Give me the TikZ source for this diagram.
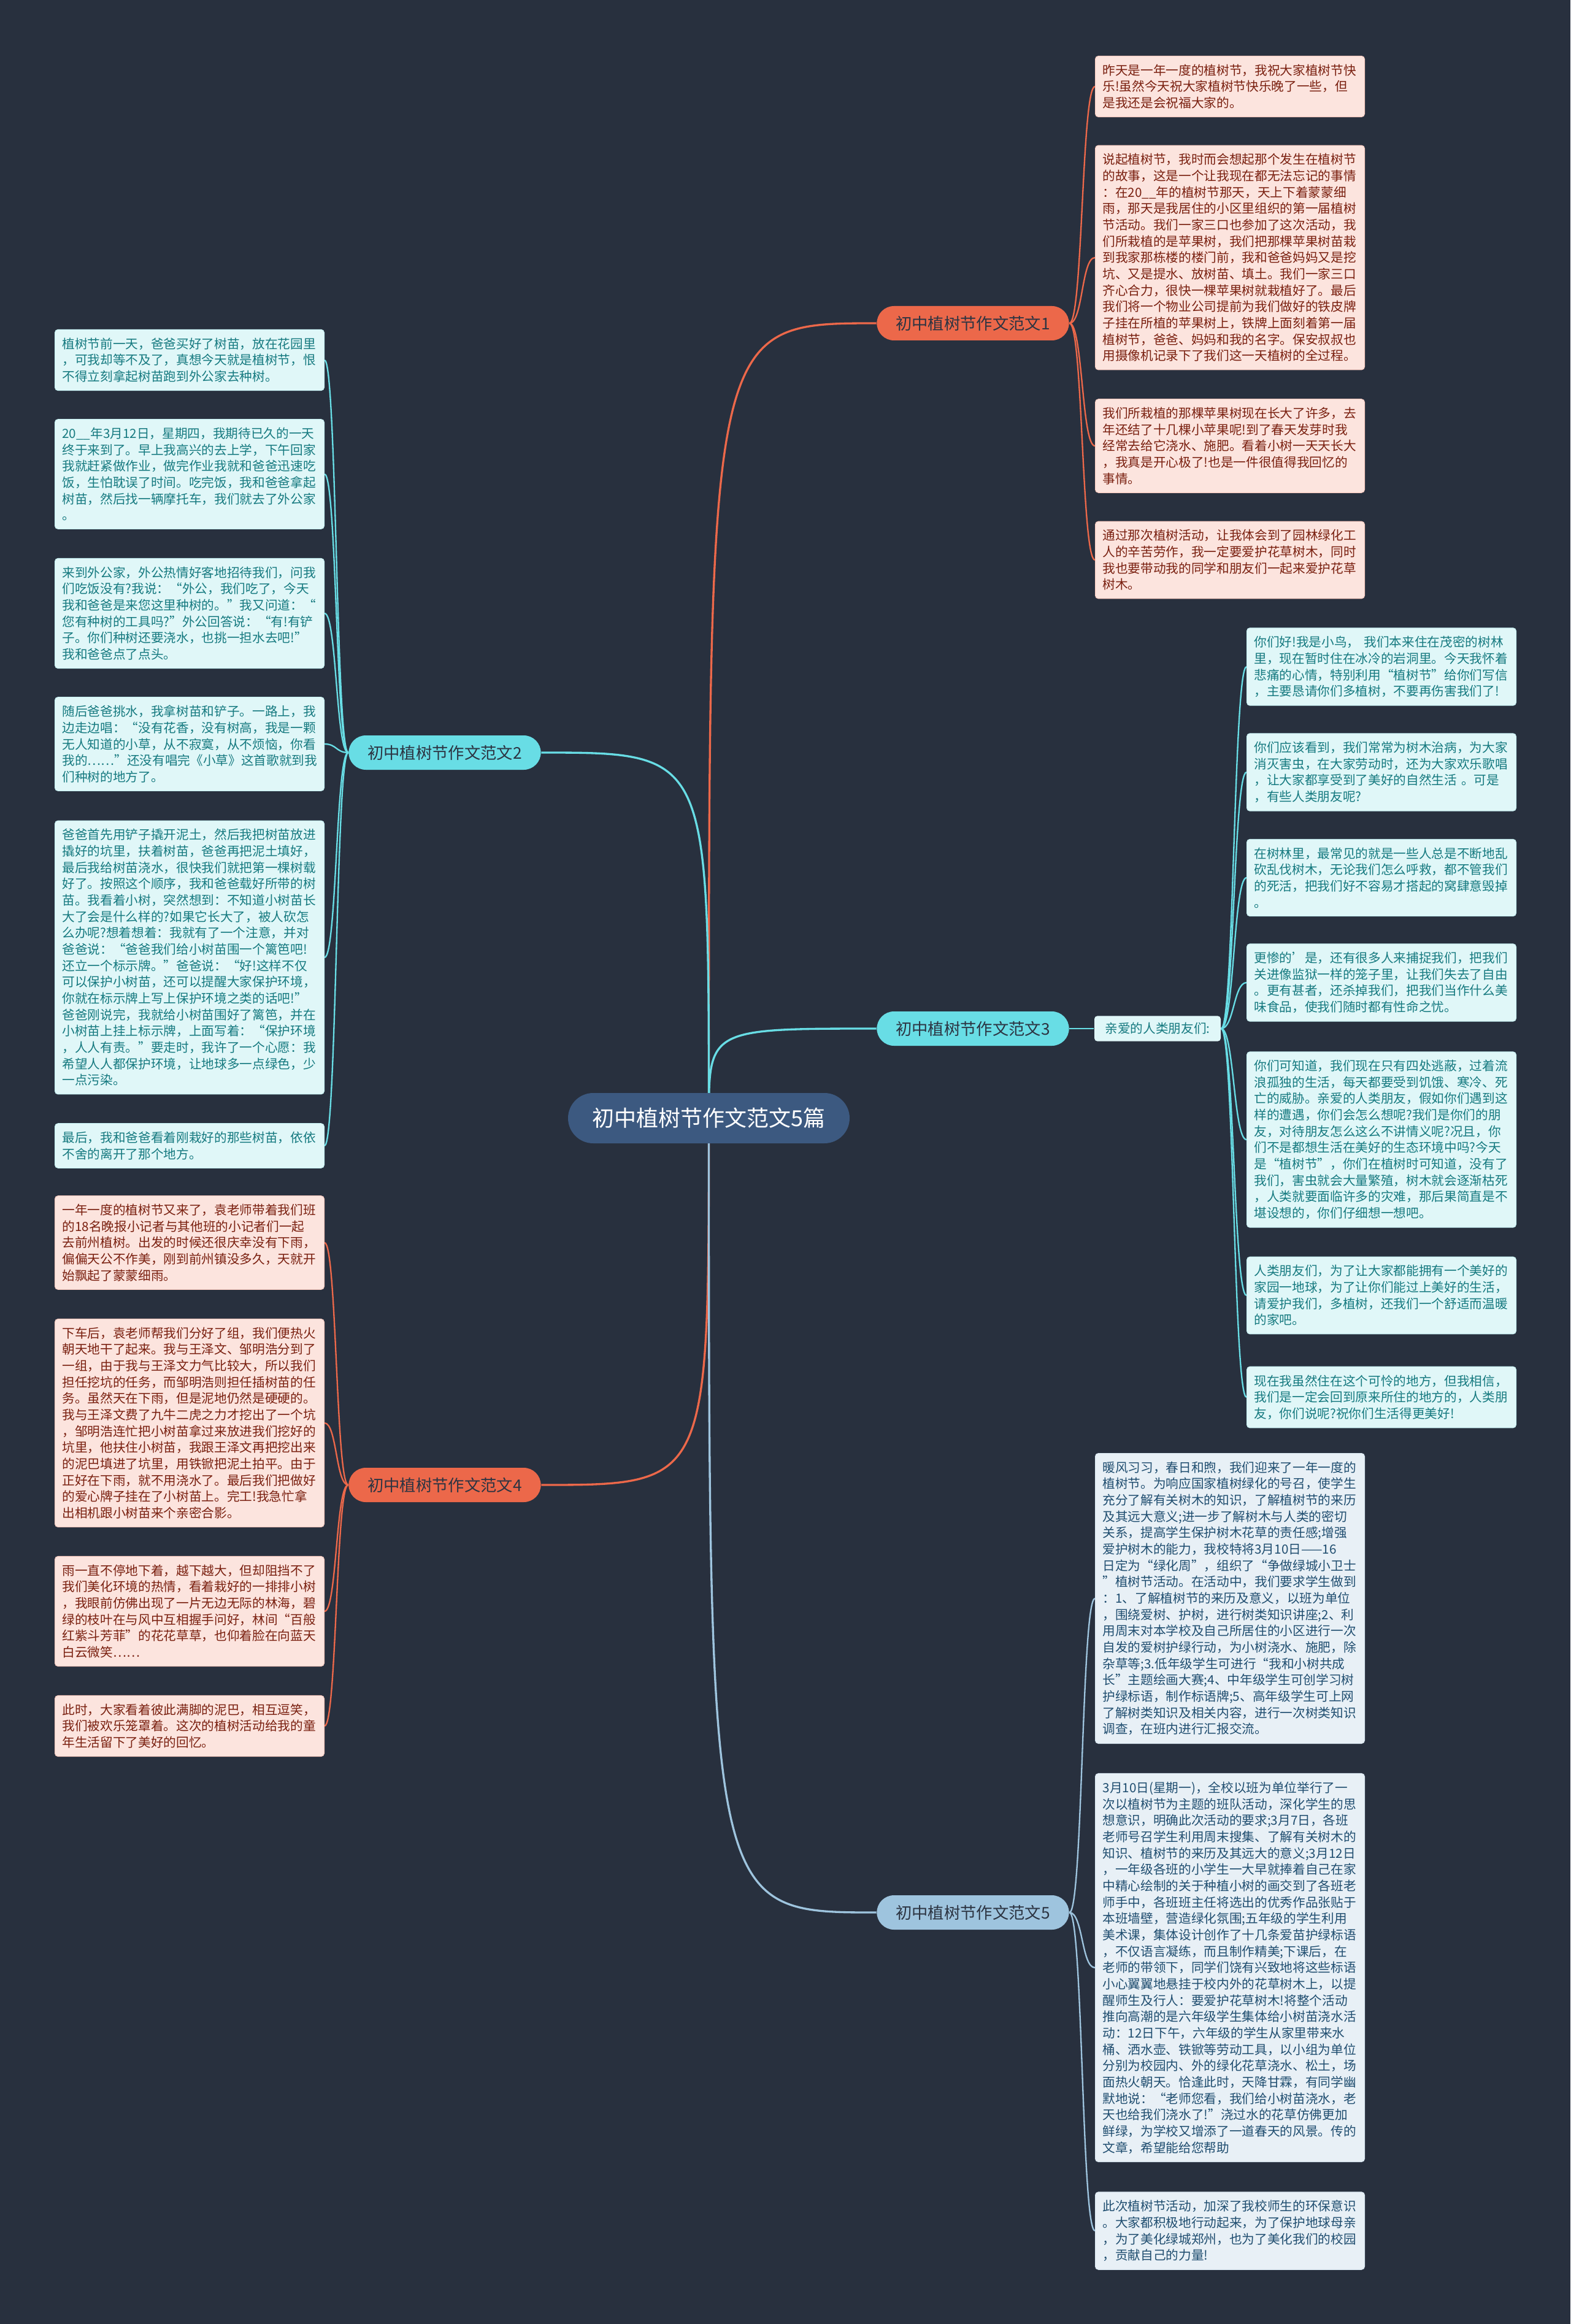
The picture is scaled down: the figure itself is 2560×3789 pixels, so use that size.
\documentclass[tikz,border=0pt]{standalone}
\usepackage{fontspec}
\setmainfont{Noto Sans CJK SC}
\usepackage{xcolor}
\usepackage{tikz}
\usetikzlibrary{shapes,positioning,backgrounds}

\definecolor{bgnavy}{RGB}{40,48,62}
\definecolor{rootblue}{RGB}{60,89,128}
\definecolor{coral}{RGB}{236,104,74}
\definecolor{aqua}{RGB}{104,221,229}
\definecolor{skyblue}{RGB}{158,196,222}
\definecolor{pinkfill}{RGB}{252,228,222}
\definecolor{pinktext}{RGB}{122,32,16}
\definecolor{aquafill}{RGB}{224,247,248}
\definecolor{aquatext}{RGB}{22,122,128}
\definecolor{bluefill}{RGB}{232,240,246}
\definecolor{bluetext}{RGB}{32,78,112}
\definecolor{topictext}{RGB}{44,52,66}

\pgfdeclarelayer{edges}
\pgfsetlayers{background,edges,main}

\begin{document}
\begin{tikzpicture}[x=0.3pt, y=-0.3pt,
    root/.style={rectangle, rounded corners=12.3pt, fill=rootblue, text=white, minimum width=137.7pt, minimum height=24.6pt, font=\fontsize{10.8pt}{13pt}\selectfont},
    topic/.style={rectangle, rounded corners=8.4pt, minimum width=94pt, minimum height=16.8pt, text=topictext, font=\fontsize{7.9pt}{9pt}\selectfont},
    hub/.style={rectangle, rounded corners=1.5pt, fill=aquafill, text=aquatext, minimum width=61.8pt, minimum height=11.7pt, font=\fontsize{6.2pt}{8pt}\selectfont},
    leaf/.style={rectangle, rounded corners=1.5pt, anchor=west, text width=124.5pt, align=left, inner xsep=3.6pt, inner ysep=4pt, line width=0.3pt, font=\fontsize{6.2pt}{8pt}\selectfont},
    leafo/.style={leaf, fill=pinkfill, draw=pinkfill!80!coral, text=pinktext},
    leafc/.style={leaf, fill=aquafill, draw=aquafill!80!aqua, text=aquatext},
    leafb/.style={leaf, fill=bluefill, draw=bluefill!80!skyblue, text=bluetext},
    branch/.style={line width=1pt},
    twig/.style={line width=0.7pt}
]

\begin{pgfonlayer}{background}
\fill[bgnavy] (0,0) rectangle (2560,3789);
\end{pgfonlayer}

% Root and topics
\node[root] (root) at (1155.5,1823) {初中植树节作文范文5篇};
\node[topic, fill=coral] (t1) at (1586,527) {初中植树节作文范文1};
\node[topic, fill=aqua] (t2) at (725,1227) {初中植树节作文范文2};
\node[topic, fill=aqua] (t3) at (1586,1677) {初中植树节作文范文3};
\node[topic, fill=coral] (t4) at (725,2421) {初中植树节作文范文4};
\node[topic, fill=skyblue] (t5) at (1586,3118) {初中植树节作文范文5};

% Essay 1
\node[leafo] (a1) at (1785,141) {昨天是一年一度的植树节，我祝大家植树节快\\
乐!虽然今天祝大家植树节快乐晚了一些，但\\
是我还是会祝福大家的。};
\node[leafo] (a2) at (1785,420) {说起植树节，我时而会想起那个发生在植树节\\
的故事，这是一个让我现在都无法忘记的事情\\
：在20\_\_年的植树节那天，天上下着蒙蒙细\\
雨，那天是我居住的小区里组织的第一届植树\\
节活动。我们一家三口也参加了这次活动，我\\
们所栽植的是苹果树，我们把那棵苹果树苗栽\\
到我家那栋楼的楼门前，我和爸爸妈妈又是挖\\
坑、又是提水、放树苗、填土。我们一家三口\\
齐心合力，很快一棵苹果树就栽植好了。最后\\
我们将一个物业公司提前为我们做好的铁皮牌\\
子挂在所植的苹果树上，铁牌上面刻着第一届\\
植树节，爸爸、妈妈和我的名字。保安叔叔也\\
用摄像机记录下了我们这一天植树的全过程。};
\node[leafo] (a3) at (1785,727) {我们所栽植的那棵苹果树现在长大了许多，去\\
年还结了十几棵小苹果呢!到了春天发芽时我\\
经常去给它浇水、施肥。看着小树一天天长大\\
，我真是开心极了!也是一件很值得我回忆的\\
事情。};
\node[leafo] (a4) at (1785,913) {通过那次植树活动，让我体会到了园林绿化工\\
人的辛苦劳作，我一定要爱护花草树木，同时\\
我也要带动我的同学和朋友们一起来爱护花草\\
树木。};

% Essay 2
\node[leafc] (d1) at (89,587) {植树节前一天，爸爸买好了树苗，放在花园里\\
，可我却等不及了，真想今天就是植树节，恨\\
不得立刻拿起树苗跑到外公家去种树。};
\node[leafc] (d2) at (89,773) {20\_\_年3月12日，星期四，我期待已久的一天\\
终于来到了。早上我高兴的去上学，下午回家\\
我就赶紧做作业，做完作业我就和爸爸迅速吃\\
饭，生怕耽误了时间。吃完饭，我和爸爸拿起\\
树苗，然后找一辆摩托车，我们就去了外公家\\
。};
\node[leafc] (d3) at (89,1000) {来到外公家，外公热情好客地招待我们，问我\\
们吃饭没有?我说：“外公，我们吃了，今天\\
我和爸爸是来您这里种树的。”我又问道：“\\
您有种树的工具吗?”外公回答说：“有!有铲\\
子。你们种树还要浇水，也挑一担水去吧!”\\
我和爸爸点了点头。};
\node[leafc] (d4) at (89,1213) {随后爸爸挑水，我拿树苗和铲子。一路上，我\\
边走边唱：“没有花香，没有树高，我是一颗\\
无人知道的小草，从不寂寞，从不烦恼，你看\\
我的……”还没有唱完《小草》这首歌就到我\\
们种树的地方了。};
\node[leafc] (d5) at (89,1561) {爸爸首先用铲子撬开泥土，然后我把树苗放进\\
撬好的坑里，扶着树苗，爸爸再把泥土填好，\\
最后我给树苗浇水，很快我们就把第一棵树载\\
好了。按照这个顺序，我和爸爸载好所带的树\\
苗。我看着小树，突然想到：不知道小树苗长\\
大了会是什么样的?如果它长大了，被人砍怎\\
么办呢?想着想着：我就有了一个注意，并对\\
爸爸说：“爸爸我们给小树苗围一个篱笆吧!\\
还立一个标示牌。”爸爸说：“好!这样不仅\\
可以保护小树苗，还可以提醒大家保护环境，\\
你就在标示牌上写上保护环境之类的话吧!”\\
爸爸刚说完，我就给小树苗围好了篱笆，并在\\
小树苗上挂上标示牌，上面写着：“保护环境\\
，人人有责。”要走时，我许了一个心愿：我\\
希望人人都保护环境，让地球多一点绿色，少\\
一点污染。};
\node[leafc] (d6) at (89,1868) {最后，我和爸爸看着刚栽好的那些树苗，依依\\
不舍的离开了那个地方。};

% Essay 3
\node[hub] (hub) at (1887,1677) {亲爱的人类朋友们:};
\node[leafc] (b1) at (2032,1087) {你们好!我是小鸟， 我们本来住在茂密的树林\\
里，现在暂时住在冰冷的岩洞里。今天我怀着\\
悲痛的心情，特别利用“植树节”给你们写信\\
，主要恳请你们多植树，不要再伤害我们了!};
\node[leafc] (b2) at (2032,1259) {你们应该看到，我们常常为树木治病，为大家\\
消灭害虫，在大家劳动时，还为大家欢乐歌唱\\
，让大家都享受到了美好的自然生活 。可是\\
，有些人类朋友呢?};
\node[leafc] (b3) at (2032,1431) {在树林里，最常见的就是一些人总是不断地乱\\
砍乱伐树木，无论我们怎么呼救，都不管我们\\
的死活，把我们好不容易才搭起的窝肆意毁掉\\
。};
\node[leafc] (b4) at (2032,1602) {更惨的'是，还有很多人来捕捉我们，把我们\\
关进像监狱一样的笼子里，让我们失去了自由\\
。更有甚者，还杀掉我们，把我们当作什么美\\
味食品，使我们随时都有性命之忧。};
\node[leafc] (b5) at (2032,1858) {你们可知道，我们现在只有四处逃蔽，过着流\\
浪孤独的生活，每天都要受到饥饿、寒冷、死\\
亡的威胁。亲爱的人类朋友，假如你们遇到这\\
样的遭遇，你们会怎么想呢?我们是你们的朋\\
友，对待朋友怎么这么不讲情义呢?况且，你\\
们不是都想生活在美好的生态环境中吗?今天\\
是“植树节”，你们在植树时可知道，没有了\\
我们，害虫就会大量繁殖，树木就会逐渐枯死\\
，人类就要面临许多的灾难，那后果简直是不\\
堪设想的，你们仔细想一想吧。};
\node[leafc] (b6) at (2032,2112) {人类朋友们，为了让大家都能拥有一个美好的\\
家园一地球，为了让你们能过上美好的生活，\\
请爱护我们，多植树，还我们一个舒适而温暖\\
的家吧。};
\node[leafc] (b7) at (2032,2278) {现在我虽然住在这个可怜的地方，但我相信，\\
我们是一定会回到原来所住的地方的，人类朋\\
友，你们说呢?祝你们生活得更美好!};

% Essay 4
\node[leafo] (e1) at (89,2026) {一年一度的植树节又来了，袁老师带着我们班\\
的18名晚报小记者与其他班的小记者们一起\\
去前州植树。出发的时候还很庆幸没有下雨，\\
偏偏天公不作美，刚到前州镇没多久，天就开\\
始飘起了蒙蒙细雨。};
\node[leafo] (e2) at (89,2320) {下车后，袁老师帮我们分好了组，我们便热火\\
朝天地干了起来。我与王泽文、邹明浩分到了\\
一组，由于我与王泽文力气比较大，所以我们\\
担任挖坑的任务，而邹明浩则担任插树苗的任\\
务。虽然天在下雨，但是泥地仍然是硬硬的。\\
我与王泽文费了九牛二虎之力才挖出了一个坑\\
，邹明浩连忙把小树苗拿过来放进我们挖好的\\
坑里，他扶住小树苗，我跟王泽文再把挖出来\\
的泥巴填进了坑里，用铁锨把泥土拍平。由于\\
正好在下雨，就不用浇水了。最后我们把做好\\
的爱心牌子挂在了小树苗上。完工!我急忙拿\\
出相机跟小树苗来个亲密合影。};
\node[leafo] (e3) at (89,2627) {雨一直不停地下着，越下越大，但却阻挡不了\\
我们美化环境的热情，看着栽好的一排排小树\\
，我眼前仿佛出现了一片无边无际的林海，碧\\
绿的枝叶在与风中互相握手问好，林间“百般\\
红紫斗芳菲”的花花草草，也仰着脸在向蓝天\\
白云微笑……};
\node[leafo] (e4) at (89,2814) {此时，大家看着彼此满脚的泥巴，相互逗笑，\\
我们被欢乐笼罩着。这次的植树活动给我的童\\
年生活留下了美好的回忆。};

% Essay 5
\node[leafb] (c1) at (1785,2606) {暖风习习，春日和煦，我们迎来了一年一度的\\
植树节。为响应国家植树绿化的号召，使学生\\
充分了解有关树木的知识，了解植树节的来历\\
及其远大意义;进一步了解树木与人类的密切\\
关系，提高学生保护树木花草的责任感;增强\\
爱护树木的能力，我校特将3月10日——16\\
日定为“绿化周”，组织了“争做绿城小卫士\\
”植树节活动。在活动中，我们要求学生做到\\
：1、了解植树节的来历及意义，以班为单位\\
，围绕爱树、护树，进行树类知识讲座;2、利\\
用周末对本学校及自己所居住的小区进行一次\\
自发的爱树护绿行动，为小树浇水、施肥，除\\
杂草等;3.低年级学生可进行“我和小树共成\\
长”主题绘画大赛;4、中年级学生可创学习树\\
护绿标语，制作标语牌;5、高年级学生可上网\\
了解树类知识及相关内容，进行一次树类知识\\
调查，在班内进行汇报交流。};
\node[leafb] (c2) at (1785,3208) {3月10日(星期一)，全校以班为单位举行了一\\
次以植树节为主题的班队活动，深化学生的思\\
想意识，明确此次活动的要求;3月7日，各班\\
老师号召学生利用周末搜集、了解有关树木的\\
知识、植树节的来历及其远大的意义;3月12日\\
，一年级各班的小学生一大早就捧着自己在家\\
中精心绘制的关于种植小树的画交到了各班老\\
师手中，各班班主任将选出的优秀作品张贴于\\
本班墙壁，营造绿化氛围;五年级的学生利用\\
美术课，集体设计创作了十几条爱苗护绿标语\\
，不仅语言凝练，而且制作精美;下课后，在\\
老师的带领下，同学们饶有兴致地将这些标语\\
小心翼翼地悬挂于校内外的花草树木上，以提\\
醒师生及行人：要爱护花草树木!将整个活动\\
推向高潮的是六年级学生集体给小树苗浇水活\\
动：12日下午，六年级的学生从家里带来水\\
桶、洒水壶、铁锨等劳动工具，以小组为单位\\
分别为校园内、外的绿化花草浇水、松土，场\\
面热火朝天。恰逢此时，天降甘霖，有同学幽\\
默地说：“老师您看，我们给小树苗浇水，老\\
天也给我们浇水了!”浇过水的花草仿佛更加\\
鲜绿，为学校又增添了一道春天的风景。传的\\
文章，希望能给您帮助};
\node[leafb] (c3) at (1785,3637) {此次植树节活动，加深了我校师生的环保意识\\
。大家都积极地行动起来，为了保护地球母亲\\
，为了美化绿城郑州，也为了美化我们的校园\\
，贡献自己的力量!};

% Connectors
\begin{pgfonlayer}{edges}
\draw[branch, coral] (root.center) .. controls (root.center |- t1) .. (t1.west);
\draw[branch, aqua] (root.center) .. controls (root.center |- t2) .. (t2.east);
\draw[branch, aqua] (root.center) .. controls (root.center |- t3) .. (t3.west);
\draw[branch, coral] (root.center) .. controls (root.center |- t4) .. (t4.east);
\draw[branch, skyblue] (root.center) .. controls (root.center |- t5) .. (t5.west);
\foreach \n in {a1,a2,a3,a4}
  \draw[twig, coral] (t1.east) .. controls +(22,0) and +(-22,0) .. (\n.west);
\foreach \n in {d1,d2,d3,d4,d5,d6}
  \draw[twig, aqua] (t2.west) .. controls +(-20,0) and +(20,0) .. (\n.east);
\draw[twig, aqua] (t3.east) -- (hub.west);
\foreach \n in {b1,b2,b3,b4,b5,b6,b7}
  \draw[twig, aqua] (hub.east) .. controls +(21,0) and +(-21,0) .. (\n.west);
\foreach \n in {e1,e2,e3,e4}
  \draw[twig, coral] (t4.west) .. controls +(-20,0) and +(20,0) .. (\n.east);
\foreach \n in {c1,c2,c3}
  \draw[twig, skyblue] (t5.east) .. controls +(22,0) and +(-22,0) .. (\n.west);
\end{pgfonlayer}

\end{tikzpicture}
\end{document}
